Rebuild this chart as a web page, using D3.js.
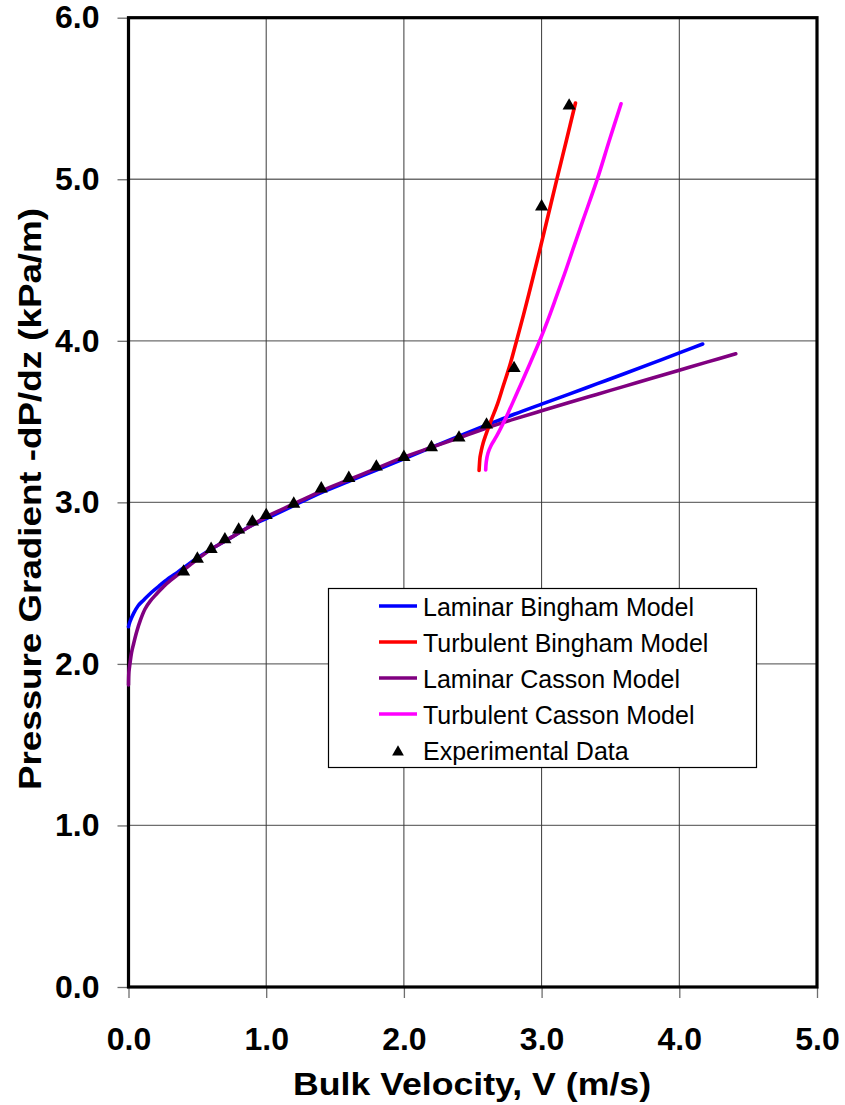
<!DOCTYPE html>
<html>
<head>
<meta charset="utf-8">
<script src="https://cdn.jsdelivr.net/npm/d3@7/dist/d3.min.js"></script>
<style>
  html, body { margin: 0; padding: 0; background: #fff; }
  svg { display: block; }
  text { font-family: "Liberation Sans", Arial, sans-serif; }
</style>
</head>
<body>
<svg id="chart" width="845" height="1105"></svg>
<script>
// Axis ticks
const xTicks = [0, 1, 2, 3, 4, 5];
const yTicks = [0, 1, 2, 3, 4, 5, 6];

// Laminar Bingham model: bulk velocity (m/s) and pressure gradient (kPa/m)
const lamBinghamV = [0.000, 0.01, 0.038, 0.07, 0.111, 0.17, 0.232, 0.30, 0.353, 0.46, 0.60, 0.70, 0.80,
  0.90, 1.00, 1.20, 1.40, 1.60, 1.80, 2.00, 2.20, 2.40, 2.60, 2.80, 3.00, 3.20, 3.40, 3.60, 3.80,
  4.00, 4.17];
const lamBinghamP = [2.23, 2.26, 2.314, 2.36, 2.396, 2.445, 2.489, 2.535, 2.565, 2.633, 2.71, 2.76, 2.81,
  2.86, 2.90, 2.98, 3.06, 3.13, 3.20, 3.27, 3.34, 3.41, 3.478, 3.545, 3.608, 3.67, 3.733, 3.796, 3.86,
  3.925, 3.98];

// Turbulent Bingham model
const turbBinghamV = [2.546, 2.549, 2.553, 2.562, 2.575, 2.60, 2.635, 2.68, 2.72, 2.77, 2.817, 2.87,
  2.937, 2.993, 3.05, 3.111, 3.18, 3.246];
const turbBinghamP = [3.197, 3.24, 3.28, 3.32, 3.366, 3.43, 3.511, 3.61, 3.717, 3.85, 3.996, 4.165,
  4.39, 4.584, 4.785, 5.001, 5.24, 5.472];

// Laminar Casson model
const lamCassonV = [0.000, 0.003, 0.011, 0.022, 0.038, 0.06, 0.087, 0.12, 0.159, 0.20, 0.256, 0.31,
  0.377, 0.45, 0.50, 0.60, 0.70, 0.80, 0.90, 1.00, 1.20, 1.40, 1.60, 1.80, 2.00, 2.20, 2.40, 2.60,
  2.80, 3.00, 3.20, 3.40, 3.60, 3.80, 4.00, 4.20, 4.41];
const lamCassonP = [1.87, 1.95, 2.004, 2.07, 2.128, 2.20, 2.272, 2.34, 2.39, 2.43, 2.48, 2.52,
  2.565, 2.615, 2.648, 2.71, 2.76, 2.81, 2.86, 2.91, 2.99, 3.07, 3.14, 3.21, 3.28, 3.34, 3.40, 3.46,
  3.515, 3.567, 3.618, 3.668, 3.718, 3.768, 3.818, 3.868, 3.92];

// Turbulent Casson model
const turbCassonV = [2.594, 2.598, 2.611, 2.635, 2.672, 2.71, 2.756, 2.81, 2.865, 2.925, 2.986, 3.046,
  3.106, 3.167, 3.227, 3.30, 3.408, 3.49, 3.577];
const turbCassonP = [3.20, 3.25, 3.305, 3.355, 3.408, 3.47, 3.552, 3.655, 3.76, 3.878, 4.00, 4.13,
  4.27, 4.415, 4.565, 4.745, 5.01, 5.235, 5.467];

// Experimental measurements
const expV = [0.4, 0.5, 0.6, 0.7, 0.8, 0.9, 1.0, 1.2, 1.4, 1.6, 1.8, 2.0, 2.2, 2.4, 2.6, 2.8, 3.0, 3.2];
const expP = [2.57, 2.65, 2.71, 2.77, 2.83, 2.88, 2.92, 2.99, 3.085, 3.15, 3.22, 3.28, 3.34, 3.40,
  3.48, 3.83, 4.83, 5.455];

const seriesNames = ["Laminar Bingham Model", "Turbulent Bingham Model", "Laminar Casson Model",
  "Turbulent Casson Model", "Experimental Data"];
const seriesColors = ["#0000FF", "#FF0000", "#800080", "#FF00FF", "#000000"];

const svg = d3.select("#chart");

const plot = { left: 128.5, right: 817, top: 17.7, bottom: 987 };
const x = d3.scaleLinear().domain([0, 5]).range([plot.left, plot.right]);
const y = d3.scaleLinear().domain([0, 6]).range([plot.bottom, plot.top]);

// Grid lines
svg.append("g").selectAll("line").data(yTicks).join("line")
  .attr("x1", plot.left).attr("x2", plot.right)
  .attr("y1", d => y(d)).attr("y2", d => y(d))
  .attr("stroke", "#6e6e6e").attr("stroke-width", 1.3);
svg.append("g").selectAll("line").data(xTicks).join("line")
  .attr("y1", plot.top).attr("y2", plot.bottom)
  .attr("x1", d => x(d)).attr("x2", d => x(d))
  .attr("stroke", "#3a3a3a").attr("stroke-width", 1);

// Axes with outside ticks
const fmt = d3.format(".1f");
const yAxis = svg.append("g").attr("transform", `translate(${plot.left},0)`)
  .call(d3.axisLeft(y).tickValues(yTicks).tickFormat(fmt).tickSizeInner(11).tickSizeOuter(0).tickPadding(18));
const xAxis = svg.append("g").attr("transform", `translate(0,${plot.bottom})`)
  .call(d3.axisBottom(x).tickValues(xTicks).tickFormat(fmt).tickSizeInner(11).tickSizeOuter(0).tickPadding(29));
[xAxis, yAxis].forEach(g => {
  g.select(".domain").remove();
  g.selectAll(".tick line").attr("stroke", "#6e6e6e").attr("stroke-width", 1.3);
  g.selectAll(".tick text").attr("fill", "#000")
    .style("font-size", "32px").style("font-weight", "bold")
    .style("font-family", '"Liberation Sans", Arial, sans-serif');
});

// Plot frame
svg.append("rect")
  .attr("x", plot.left).attr("y", plot.top)
  .attr("width", plot.right - plot.left).attr("height", plot.bottom - plot.top)
  .attr("fill", "none").attr("stroke", "#000").attr("stroke-width", 3.2);

// Model curves
const line = d3.line().x(d => x(d[0])).y(d => y(d[1])).curve(d3.curveCatmullRom.alpha(0.5));
const curves = [
  [lamBinghamV, lamBinghamP, seriesColors[0]],
  [lamCassonV, lamCassonP, seriesColors[2]],
  [turbCassonV, turbCassonP, seriesColors[3]],
  [turbBinghamV, turbBinghamP, seriesColors[1]]
];
curves.forEach(([vs, ps, c]) => {
  svg.append("path")
    .datum(d3.zip(vs, ps))
    .attr("d", line)
    .attr("fill", "none")
    .attr("stroke", c)
    .attr("stroke-width", 3.6)
    .attr("stroke-linecap", "round")
    .attr("stroke-linejoin", "round");
});

// Experimental points
const tri = d3.symbol().type(d3.symbolTriangle).size(75);
svg.append("g").selectAll("path").data(d3.zip(expV, expP)).join("path")
  .attr("d", tri)
  .attr("transform", d => `translate(${x(d[0])},${y(d[1])})`)
  .attr("fill", "#000");

// Legend
const legend = svg.append("g");
legend.append("rect")
  .attr("x", 328.5).attr("y", 588.5).attr("width", 428).attr("height", 179)
  .attr("fill", "#fff").attr("stroke", "#000").attr("stroke-width", 1.2);
seriesNames.forEach((name, i) => {
  const base = 616 + i * 36;
  if (i < 4) {
    legend.append("line")
      .attr("x1", 379).attr("x2", 417).attr("y1", base - 10).attr("y2", base - 10)
      .attr("stroke", seriesColors[i]).attr("stroke-width", 3.6);
  } else {
    legend.append("path")
      .attr("d", d3.symbol().type(d3.symbolTriangle).size(60))
      .attr("transform", `translate(398,${base - 8})`)
      .attr("fill", "#000");
  }
  legend.append("text")
    .attr("x", 423).attr("y", base)
    .style("font-size", "25px")
    .attr("fill", "#000")
    .text(name);
});

// Axis titles
svg.append("text")
  .attr("x", 472).attr("y", 1095)
  .attr("text-anchor", "middle")
  .attr("textLength", 358).attr("lengthAdjust", "spacingAndGlyphs")
  .style("font-size", "32px").style("font-weight", "bold")
  .text("Bulk Velocity, V (m/s)");
svg.append("text")
  .attr("transform", "translate(41,499) rotate(-90)")
  .attr("text-anchor", "middle")
  .attr("textLength", 582).attr("lengthAdjust", "spacingAndGlyphs")
  .style("font-size", "31px").style("font-weight", "bold")
  .text("Pressure Gradient -dP/dz (kPa/m)");
</script>
</body>
</html>
